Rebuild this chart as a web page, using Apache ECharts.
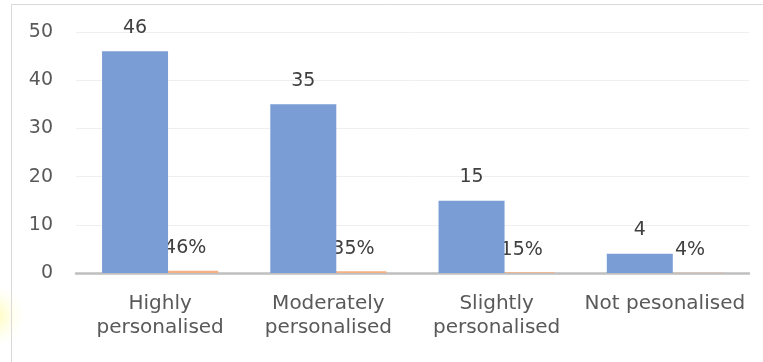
<!DOCTYPE html>
<html>
<head>
<meta charset="utf-8">
<script src="https://cdn.jsdelivr.net/npm/echarts@6/dist/echarts.min.js"></script>
<style>
  html, body { margin: 0; padding: 0; background: #ffffff; }
  #chart { width: 763px; height: 362px; }
</style>
</head>
<body>
<div id="chart"></div>
<script>
// Level of personalisation: respondent counts and their shares
const categories = ['Highly\npersonalised', 'Moderately\npersonalised', 'Slightly\npersonalised', 'Not pesonalised'];
const counts = [46, 35, 15, 4];
const shares = [0.46, 0.35, 0.15, 0.04];
const yTicks = { min: 0, max: 50, interval: 10 };

const FONT = 'DejaVu Sans';
const NUM_SIZE = 19;
const CAT_SIZE = 20;
const chart = echarts.init(document.getElementById('chart'), null, { renderer: 'canvas' });

chart.setOption({
  animation: false,
  backgroundColor: '#ffffff',
  textStyle: { fontFamily: FONT },
  grid: { left: 76, right: 14, top: 32, bottom: 89 },
  graphic: [
    {
      type: 'circle',
      shape: { cx: -6, cy: 316, r: 30 },
      style: {
        fill: {
          type: 'radial', x: 0.5, y: 0.5, r: 0.5,
          colorStops: [
            { offset: 0, color: 'rgba(255,250,170,0.9)' },
            { offset: 1, color: 'rgba(255,255,220,0)' }
          ]
        }
      },
      z: -10
    },
    {
      type: 'rect',
      shape: { x: 11.5, y: 4.5, width: 800, height: 400 },
      style: { fill: 'rgba(0,0,0,0)', stroke: '#d9d9d9', lineWidth: 1 },
      silent: true,
      z: -5
    }
  ],
  xAxis: {
    type: 'category',
    data: categories,
    axisLine: { lineStyle: { color: '#bfbfbf', width: 2.5 } },
    axisTick: { show: false },
    axisLabel: {
      color: '#595959', fontSize: CAT_SIZE, lineHeight: 24, margin: 19,
      fontFamily: FONT, interval: 0
    }
  },
  yAxis: {
    type: 'value',
    min: yTicks.min, max: yTicks.max, interval: yTicks.interval,
    axisLine: { show: false },
    axisTick: { show: false },
    splitLine: { lineStyle: { color: '#efefef', width: 1 } },
    axisLabel: { color: '#595959', fontSize: NUM_SIZE, margin: 23, fontFamily: FONT }
  },
  series: [
    {
      name: 'Count',
      type: 'bar',
      data: counts,
      barWidth: 66,
      barGap: '-24%',
      itemStyle: { color: '#7a9dd6' },
      label: {
        show: true, position: 'top', distance: 14,
        color: '#404040', fontSize: NUM_SIZE, fontFamily: FONT
      },
      z: 3
    },
    {
      name: 'Share',
      type: 'bar',
      data: shares,
      barWidth: 66,
      barGap: '-24%',
      itemStyle: { color: '#f4b183' },
      label: {
        show: true, position: 'top', distance: 13,
        color: '#404040', fontSize: NUM_SIZE, fontFamily: FONT,
        formatter: p => Math.round(p.value * 100) + '%'
      },
      z: 2
    }
  ]
});
</script>
</body>
</html>
